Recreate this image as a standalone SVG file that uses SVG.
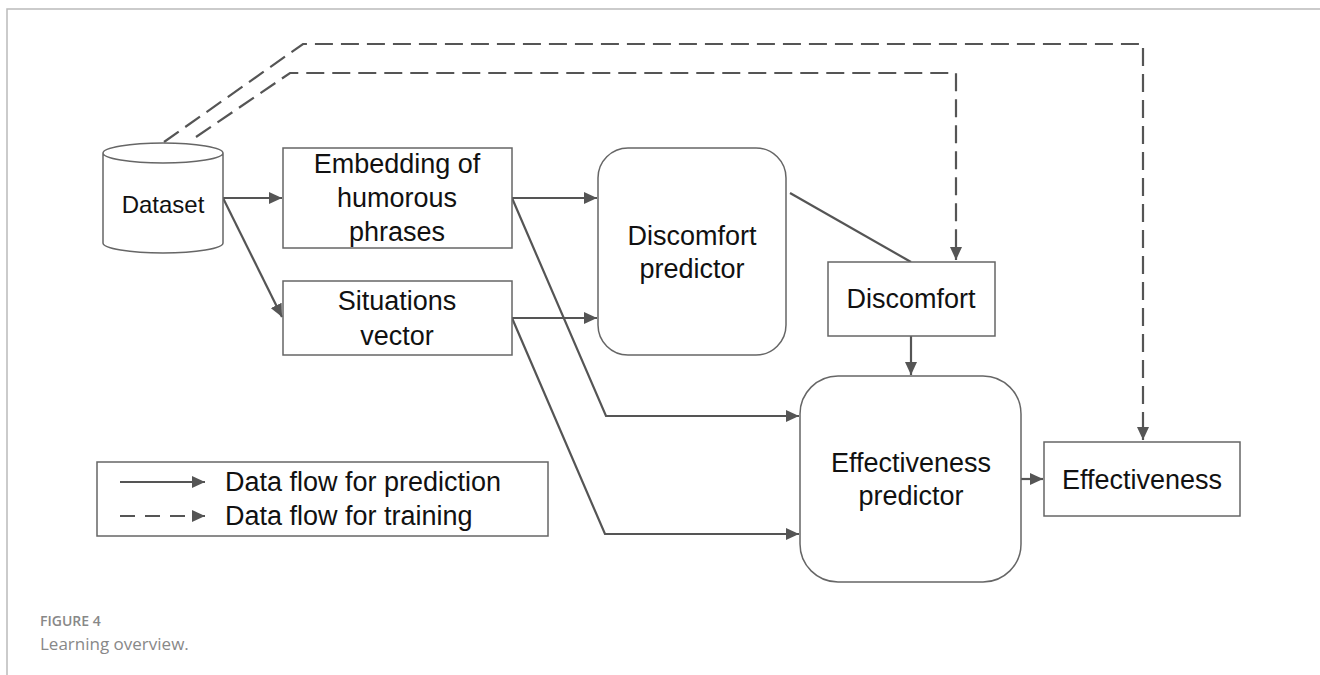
<svg xmlns="http://www.w3.org/2000/svg" width="1320" height="675" viewBox="0 0 1320 675">
<defs>
<marker id="ah" markerUnits="userSpaceOnUse" markerWidth="14" markerHeight="12" refX="13" refY="6" orient="auto">
<path d="M0,0 L13,6 L0,12 Z" fill="#555"/>
</marker>
<style>
.box{fill:#fff;stroke:#666;stroke-width:1.5}
.t{font-family:"Liberation Sans",Arial,sans-serif;font-size:27px;fill:#111;text-anchor:middle}
.lt{font-family:"Liberation Sans",Arial,sans-serif;font-size:27px;fill:#111}
.c{fill:none;stroke:#555;stroke-width:2.2}
.d{fill:none;stroke:#555;stroke-width:2.2;stroke-dasharray:18 8}
</style>
</defs>
<rect width="1320" height="675" fill="#fff"/>
<path d="M7,675 V9 H1320" fill="none" stroke="#bbb" stroke-width="1.5"/>

<g id="connectors">
<path class="d" d="M164,142 L303,44 H1143 V440" marker-end="url(#ah)"/>
<path class="d" d="M196,137 L290,73 H956 V260" marker-end="url(#ah)"/>
<path class="c" d="M223,198 H282" marker-end="url(#ah)"/>
<path class="c" d="M223,198 L282,317" marker-end="url(#ah)"/>
<path class="c" d="M512,198 H597" marker-end="url(#ah)"/>
<path class="c" d="M512,318 H597" marker-end="url(#ah)"/>
<path class="c" d="M512,198 L606,416 H799" marker-end="url(#ah)"/>
<path class="c" d="M512,318 L605,534 H799" marker-end="url(#ah)"/>
<path class="c" d="M790,193 L911,262"/>
<path class="c" d="M911,336 V375" marker-end="url(#ah)"/>
<path class="c" d="M1021,479 H1043" marker-end="url(#ah)"/>
</g>

<g id="dataset">
<path class="box" d="M103,153 V243 A60,10 0 0 0 223,243 V153 A60,10 0 0 0 103,153 A60,10 0 0 0 223,153"/>
<text class="t" x="163" y="213" style="font-size:24px">Dataset</text>
</g>

<g id="embedding">
<rect class="box" x="283" y="148" width="229" height="100"/>
<text class="t" x="397" y="173">Embedding of</text>
<text class="t" x="397" y="207">humorous</text>
<text class="t" x="397" y="241">phrases</text>
</g>

<g id="situations">
<rect class="box" x="283" y="281" width="229" height="74"/>
<text class="t" x="397" y="310">Situations</text>
<text class="t" x="397" y="345">vector</text>
</g>

<g id="discomfort-predictor">
<rect class="box" x="598" y="148" width="188" height="207" rx="30" ry="30"/>
<text class="t" x="692" y="245">Discomfort</text>
<text class="t" x="692" y="278">predictor</text>
</g>

<g id="discomfort">
<rect class="box" x="828" y="262" width="167" height="74"/>
<text class="t" x="911" y="308">Discomfort</text>
</g>

<g id="effectiveness-predictor">
<rect class="box" x="800" y="376" width="221" height="206" rx="38" ry="38"/>
<text class="t" x="911" y="472">Effectiveness</text>
<text class="t" x="911" y="505">predictor</text>
</g>

<g id="effectiveness">
<rect class="box" x="1044" y="442" width="196" height="74"/>
<text class="t" x="1142" y="489">Effectiveness</text>
</g>

<g id="legend">
<rect class="box" x="97" y="462" width="451" height="74"/>
<path class="c" d="M120,482 H205" marker-end="url(#ah)"/>
<path class="c" d="M120,516 H205" stroke-dasharray="15 10" marker-end="url(#ah)"/>
<text class="lt" x="225" y="491">Data flow for prediction</text>
<text class="lt" x="225" y="525">Data flow for training</text>
</g>

<g id="caption">
<text x="40" y="626" style="font-family:'Open Sans','Noto Sans',sans-serif;font-size:14px;font-weight:600;fill:#888">FIGURE 4</text>
<text x="40" y="650" style="font-family:'Open Sans','Noto Sans',sans-serif;font-size:17px;fill:#888">Learning overview.</text>
</g>
</svg>
